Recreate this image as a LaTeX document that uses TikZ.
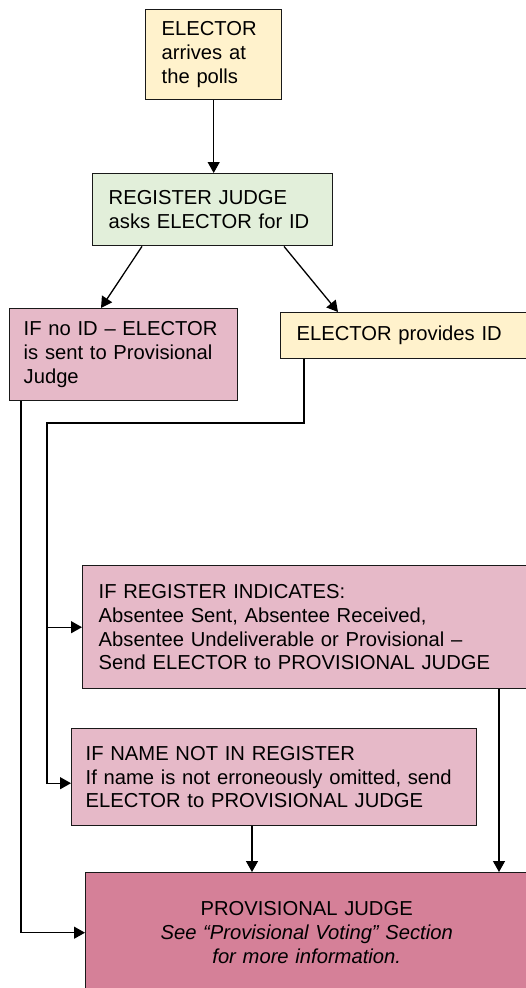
\documentclass[tikz,border=0pt]{standalone}
\usepackage{fontspec}
\setmainfont{Liberation Sans}
\usetikzlibrary{arrows.meta}
\definecolor{arrivefill}{HTML}{FFF2CC}
\definecolor{judgefill}{HTML}{E2EFDA}
\definecolor{sendfill}{HTML}{E6B9C8}
\definecolor{provfill}{HTML}{D58098}

\begin{document}
\begin{tikzpicture}[x=1pt,y=-1pt,
	box/.style={draw=black!90,line width=1.4pt,anchor=north west,inner xsep=16pt,inner ysep=0pt,align=left,font=\fontsize{20.2}{23.7}\selectfont},
	conn/.style={line width=1.3pt,-{Triangle[length=11pt,width=12pt]}}]
	\useasboundingbox (0,0) rectangle (526,988);
	\clip (0,0) rectangle (526,988);
	\node[box,fill=arrivefill,text width=104pt,minimum height=90pt] (arrive) at (145,9) {ELECTOR\\arrives at\\the polls};
	\node[box,fill=judgefill,text width=208pt,minimum height=72pt] (askid) at (92,173) {REGISTER JUDGE\\asks ELECTOR for ID};
	\node[box,fill=sendfill,inner xsep=14pt,text width=200pt,minimum height=92pt] (noid) at (9,308) {IF no ID -- ELECTOR\\is sent to Provisional\\Judge};
	\node[box,fill=arrivefill,text width=238pt,minimum height=46pt] (idok) at (280,312) {ELECTOR provides ID};
	\node[box,fill=sendfill,text width=438pt,minimum height=123pt] (absent) at (82,565) {IF REGISTER INDICATES:\\Absentee Sent, Absentee Received,\\Absentee Undeliverable or Provisional --\\Send ELECTOR to PROVISIONAL JUDGE};
	\node[box,fill=sendfill,inner xsep=14pt,text width=377pt,minimum height=97pt] (noname) at (71,728) {IF NAME NOT IN REGISTER\\If name is not erroneously omitted, send\\ELECTOR to PROVISIONAL JUDGE};
	\node[box,fill=provfill,align=center,text width=410pt,minimum height=120pt] (provj) at (85,872) {PROVISIONAL JUDGE\\\textit{See “Provisional Voting” Section}\\\textit{for more information.}};
	\draw[conn] (arrive.south) -- (arrive.south |- askid.north);
	\draw[conn] ([xshift=50pt]askid.south west) -- ([xshift=92pt]noid.north west);
	\draw[conn] ([xshift=192pt]askid.south west) -- ([xshift=58pt]idok.north west);
	\coordinate (bend) at (47,423);
	\draw[conn] ([xshift=24pt]idok.south west) |- (bend) |- ([yshift=-6pt]noname.west);
	\draw[conn] (bend |- absent.west) -- (absent.west);
	\draw[conn] ([xshift=12pt]noid.south west) |- (provj.west);
	\coordinate (n1) at ([xshift=181pt]noname.south west);
	\draw[conn] (n1) -- (n1 |- provj.north);
	\coordinate (a1) at ([xshift=417pt]absent.south west);
	\draw[conn] (a1) -- (a1 |- provj.north);
\end{tikzpicture}
\end{document}
